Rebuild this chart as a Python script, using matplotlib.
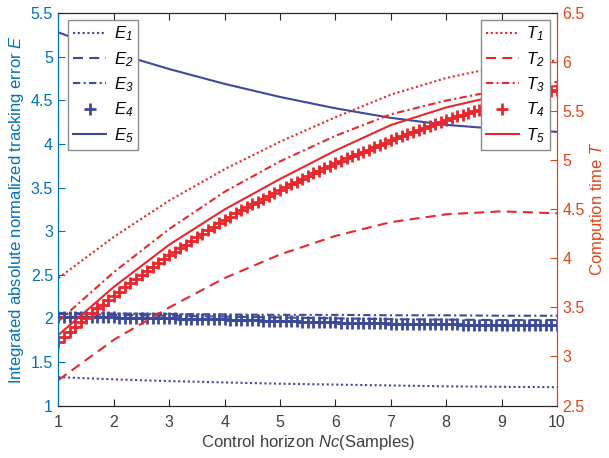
import numpy as np
import matplotlib.pyplot as plt

plt.rcParams['font.family'] = ['Liberation Sans', 'DejaVu Sans']
plt.rcParams['mathtext.fontset'] = 'custom'
plt.rcParams['mathtext.it'] = 'Liberation Sans:italic'
plt.rcParams['mathtext.rm'] = 'Liberation Sans:italic'

# control horizon samples
nc = [1, 2, 3, 4, 5, 6, 7, 8, 9, 10]
nc_fine = [round(1 + 0.1 * i, 1) for i in range(91)]

# tracking error E (left axis)
e1 = [1.325, 1.30, 1.28, 1.265, 1.25, 1.24, 1.23, 1.22, 1.215, 1.21]
e2 = [2.05, 2.04, 2.03, 2.02, 2.01, 2.00, 1.99, 1.985, 1.98, 1.98]
e3 = [2.06, 2.055, 2.05, 2.045, 2.04, 2.04, 2.035, 2.035, 2.03, 2.03]
e5 = [5.28, 5.05, 4.86, 4.69, 4.54, 4.41, 4.30, 4.22, 4.17, 4.14]
e4 = [2.020, 2.019, 2.018, 2.017, 2.016, 2.015, 2.014, 2.013, 2.012, 2.011,
      2.010, 2.009, 2.008, 2.007, 2.006, 2.005, 2.004, 2.003, 2.002, 2.001,
      2.000, 1.999, 1.997, 1.996, 1.995, 1.994, 1.993, 1.992, 1.990, 1.989,
      1.988, 1.986, 1.984, 1.982, 1.980, 1.979, 1.977, 1.975, 1.973, 1.972,
      1.970, 1.968, 1.966, 1.965, 1.963, 1.961, 1.960, 1.958, 1.956, 1.955,
      1.953, 1.952, 1.950, 1.949, 1.948, 1.946, 1.945, 1.944, 1.942, 1.941,
      1.940, 1.939, 1.938, 1.937, 1.936, 1.935, 1.934, 1.933, 1.933, 1.932,
      1.931, 1.930, 1.930, 1.929, 1.928, 1.928, 1.927, 1.927, 1.926, 1.926,
      1.925, 1.925, 1.924, 1.924, 1.923, 1.923, 1.922, 1.922, 1.921, 1.921,
      1.920]

# computation time T (right axis)
t1 = [3.80, 4.22, 4.59, 4.91, 5.19, 5.44, 5.67, 5.84, 5.96, 6.02]
t2 = [2.76, 3.17, 3.50, 3.80, 4.04, 4.23, 4.37, 4.45, 4.48, 4.46]
t3 = [3.36, 3.86, 4.30, 4.68, 4.99, 5.25, 5.47, 5.61, 5.72, 5.80]
t5 = [3.22, 3.71, 4.14, 4.50, 4.81, 5.10, 5.36, 5.54, 5.67, 5.76]
t4 = [3.15, 3.20, 3.25, 3.30, 3.35, 3.39, 3.44, 3.49, 3.53, 3.58,
      3.62, 3.66, 3.71, 3.75, 3.79, 3.83, 3.87, 3.91, 3.95, 3.99,
      4.03, 4.07, 4.11, 4.14, 4.18, 4.22, 4.25, 4.29, 4.32, 4.36,
      4.39, 4.42, 4.46, 4.49, 4.52, 4.55, 4.58, 4.61, 4.64, 4.67,
      4.70, 4.73, 4.76, 4.78, 4.81, 4.84, 4.87, 4.89, 4.92, 4.94,
      4.97, 4.99, 5.02, 5.04, 5.07, 5.09, 5.11, 5.14, 5.16, 5.18,
      5.21, 5.23, 5.25, 5.27, 5.29, 5.31, 5.33, 5.35, 5.37, 5.39,
      5.41, 5.43, 5.45, 5.46, 5.48, 5.50, 5.51, 5.53, 5.55, 5.56,
      5.58, 5.60, 5.61, 5.63, 5.64, 5.65, 5.67, 5.68, 5.69, 5.71,
      5.72]

BLUE = '#3d4a9c'
RED = '#e8262b'
LEFT_C = '#0072bd'
RIGHT_C = '#e0451a'
GRAY = '#262626'

DOT = (0, (1, 1.3))
DASH = (0, (4.8, 3))
DASHDOT = (0, (3.5, 1.6, 1, 1.6))
LW = 1.5

fig = plt.figure(figsize=(6.09, 4.58), dpi=100)
ax1 = fig.add_axes([0.096, 0.1146, 0.8186, 0.8564])
ax2 = ax1.twinx()

h_e = [
    ax1.plot(nc, e1, color=BLUE, lw=LW, ls=DOT)[0],
    ax1.plot(nc, e2, color=BLUE, lw=LW, ls=DASH)[0],
    ax1.plot(nc, e3, color=BLUE, lw=LW, ls=DASHDOT)[0],
    ax1.plot(nc_fine, e4, color=BLUE, ls='none', marker='+', ms=8, mew=2.0)[0],
    ax1.plot(nc, e5, color=BLUE, lw=LW, ls='-')[0],
]
h_t = [
    ax2.plot(nc, t1, color=RED, lw=LW, ls=DOT)[0],
    ax2.plot(nc, t2, color=RED, lw=LW, ls=DASH)[0],
    ax2.plot(nc, t3, color=RED, lw=LW, ls=DASHDOT)[0],
    ax2.plot(nc_fine, t4, color=RED, ls='none', marker='+', ms=8, mew=2.0)[0],
    ax2.plot(nc, t5, color=RED, lw=LW, ls='-')[0],
]

ax1.set_xlim(1, 10)
ax1.set_ylim(1, 5.5)
ax2.set_ylim(2.5, 6.5)
ax1.set_xticks(range(1, 11))
ax1.set_yticks(np.arange(1, 5.51, 0.5))
ax2.set_yticks(np.arange(2.5, 6.51, 0.5))
ax1.set_yticklabels(['1', '1.5', '2', '2.5', '3', '3.5', '4', '4.5', '5', '5.5'])
ax2.set_yticklabels(['2.5', '3', '3.5', '4', '4.5', '5', '5.5', '6', '6.5'])

ax1.tick_params(axis='x', direction='in', length=5, colors=GRAY, labelcolor='#404040',
                labelsize=11.5, top=True, pad=7)
ax1.tick_params(axis='y', direction='in', length=5, colors=LEFT_C, labelsize=11.5, pad=4)
ax2.tick_params(axis='y', direction='in', length=5, colors=RIGHT_C, labelsize=11.5, pad=4)

for ax in (ax1, ax2):
    ax.spines['top'].set_color(GRAY)
    ax.spines['bottom'].set_color(GRAY)
    ax.spines['left'].set_color(LEFT_C)
    ax.spines['right'].set_color(RIGHT_C)
    for s in ax.spines.values():
        s.set_linewidth(0.8)

ax1.set_xlabel('Control horizon $Nc$(Samples)', fontsize=12, color='#404040', labelpad=2)
ax1.set_ylabel('Integrated absolute normalized tracking error $E$', fontsize=12,
               color=LEFT_C, labelpad=3)
ax2.set_ylabel('Compution time $T$', fontsize=12, color=RIGHT_C, labelpad=2)

leg_kw = dict(fontsize=12, frameon=True, fancybox=False, framealpha=1, edgecolor='#8c8c8c',
              borderaxespad=0, handlelength=2.0, handletextpad=0.45, labelspacing=0.4,
              borderpad=0.3, numpoints=1)
leg_e = ax2.legend(h_e, ['$E_1$', '$E_2$', '$E_3$', '$E_4$', '$E_5$'], loc='upper left',
                   bbox_to_anchor=(0.019, 0.984), **leg_kw)
leg_e.get_frame().set_linewidth(1.0)
ax2.add_artist(leg_e)
leg_t = ax2.legend(h_t, ['$T_1$', '$T_2$', '$T_3$', '$T_4$', '$T_5$'], loc='upper right',
                   bbox_to_anchor=(0.986, 0.984), **leg_kw)
leg_t.get_frame().set_linewidth(1.0)

fig.savefig('out.png', dpi=100)
